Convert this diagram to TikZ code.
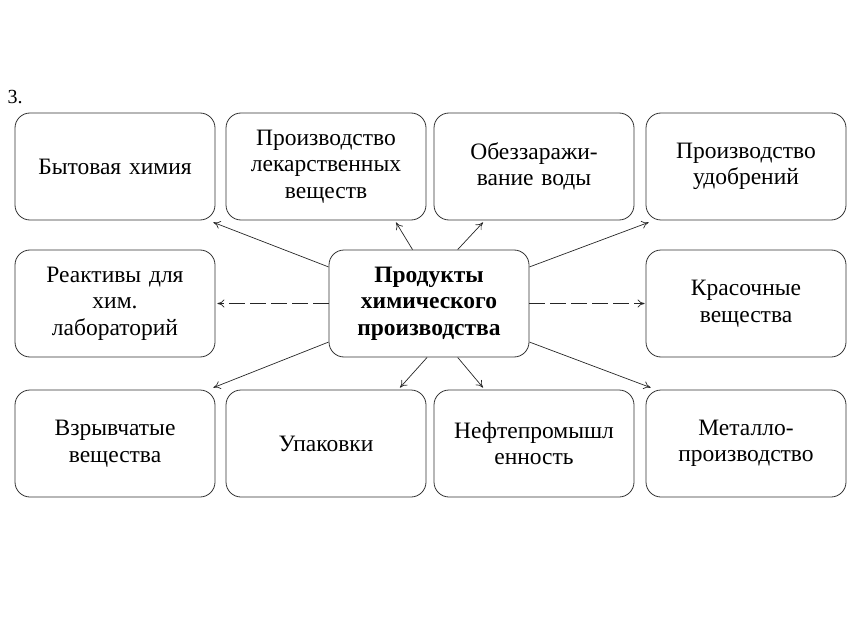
\documentclass[tikz,border=0pt]{standalone}
\usepackage{fontspec}
\setmainfont{Liberation Serif}
\usetikzlibrary{calc}
\usetikzlibrary{arrows.meta}
\tikzset{
  box/.style={draw=black!80, line width=.8pt, rounded corners=15pt,
    minimum width=200pt, minimum height=107pt, align=center,
    text width=190pt, font=\fontsize{23.5}{26.5}\selectfont},
  arr/.style={-{To[length=7pt,width=8pt]}, line width=.7pt, black!85},
  darr/.style={arr, dash pattern=on 16pt off 5pt}
}

\begin{document}
\begin{tikzpicture}[x=1pt,y=-1pt]
\useasboundingbox (0,0) rectangle (859,639);
\node[font=\fontsize{20}{20}\selectfont] (nr) at (15,97) {3.};
% top row
\node[box] (bytchem) at (115,166.5) {Бытовая химия};
\node[box] (lekar) at (326,166.5) {Производство\\лекарственных\\веществ};
\node[box] (obezz) at (534,166.5) {Обеззаражи-\\вание воды};
\node[box] (udobr) at (746,166.5) {Производство\\удобрений};
% middle row
\node[box] (reakt) at (115,303.5) {Реактивы для\\хим.\\лабораторий};
\node[box, font=\fontsize{23.5}{26.5}\selectfont\bfseries] (prod) at (429,303.5) {Продукты\\химического\\производства};
\node[box] (krasoch) at (746,303.5) {Красочные\\вещества};
% bottom row
\node[box] (vzryv) at (115,443.5) {Взрывчатые\\вещества};
\node[box] (upak) at (326,443.5) {Упаковки};
\node[box] (neft) at (534,443.5) {Нефтепромышл\\енность};
\node[box] (metall) at (746,443.5) {Металло-\\производство};
% arrows
\draw[arr] (prod.160) -- ($(bytchem.south east)+(-2,2)$);
\draw[arr] (prod.107) -- ($(lekar.south)+(70,2)$);
\draw[arr] (prod.62) -- ($(obezz.south)+(-51,2)$);
\draw[arr] (prod.20) -- ($(udobr.south west)+(3,2)$);
\draw[darr] (prod.west) -- ($(reakt.east)+(2,0)$);
\draw[darr] (prod.east) -- ($(krasoch.west)+(-1,0)$);
\draw[arr] (prod.201) -- ($(vzryv.north east)+(-2,-2)$);
\draw[arr] (prod.268) -- ($(upak.north)+(74,-2)$);
\draw[arr] (prod.298) -- ($(neft.north)+(-51,-2)$);
\draw[arr] (prod.339) -- ($(metall.north west)+(5,-2)$);
\end{tikzpicture}
\end{document}
